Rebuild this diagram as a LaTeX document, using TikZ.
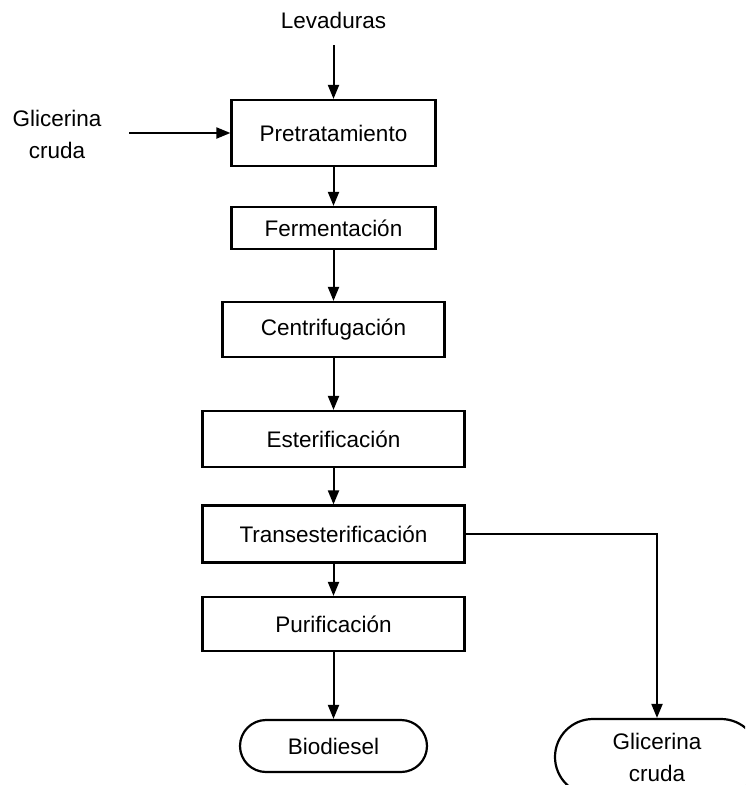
\documentclass[tikz,border=0pt]{standalone}
\usepackage{fontspec}
\setmainfont{Liberation Sans}
\usetikzlibrary{arrows.meta,shapes.misc}
\begin{document}
\begin{tikzpicture}[x=1pt,y=-1pt,
  every node/.style={font=\fontsize{22.5}{32}\selectfont},
  procbox/.style={draw, line width=2.2pt, rectangle, inner sep=0pt},
  endbox/.style={draw, line width=2.2pt, rounded rectangle, inner sep=0pt, align=center},
  flow/.style={line width=2pt, -{Triangle[length=14pt,width=11pt]}}]
\clip (0,0) rectangle (745,785);

% inputs
\node (lev) at (333.5,20) {Levaduras};
\coordinate (levout) at (333.5,45);
\node[align=center] (glin) at (57,134) {Glicerina\\cruda};
\coordinate (glinout) at (129,133);

% process chain
\node[procbox, minimum width=204pt, minimum height=66pt] (pret) at (333.5,133) {Pretratamiento};
\node[procbox, minimum width=204pt, minimum height=42pt] (ferm) at (333.5,228) {Fermentación};
\node[procbox, minimum width=222pt, minimum height=55pt] (cent) at (333.5,329.5) {Centrifugación};
\node[procbox, minimum width=262pt, minimum height=56pt] (est) at (333.5,439) {Esterificación};
\node[procbox, minimum width=262pt, minimum height=57pt] (trans) at (333.5,534) {Transesterificación};
\node[procbox, minimum width=262pt, minimum height=54pt] (pur) at (333.5,624) {Purificación};

% products
\node[endbox, minimum width=187pt, minimum height=52pt] (bio) at (333.5,746) {Biodiesel};
\node[endbox, minimum width=204pt, minimum height=76pt] (glout) at (657,757) {Glicerina\\cruda};

% connectors
\draw[flow] (levout) -- (pret);
\draw[flow] (glinout) -- (pret);
\draw[flow] (pret) -- (ferm);
\draw[flow] (ferm) -- (cent);
\draw[flow] (cent) -- (est);
\draw[flow] (est) -- (trans);
\draw[flow] (trans) -- (pur);
\draw[flow] (pur) -- (bio);
\draw[flow] (trans.east) -| (glout.north);
\end{tikzpicture}
\end{document}
